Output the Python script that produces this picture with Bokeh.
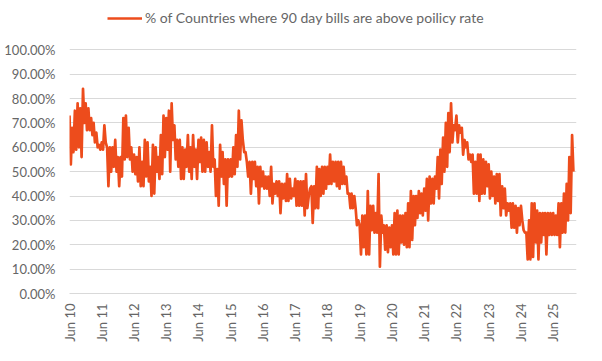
import calendar
from datetime import datetime
from bokeh.plotting import figure
from bokeh.models import (Range1d, FixedTicker, DatetimeTickFormatter, CustomJSTickFormatter,
                          Legend, LegendItem, ColumnDataSource)
from bokeh.embed import file_html
from bokeh.resources import INLINE

# monthly envelope of the series, Jun 2010 .. Feb 2026 (percent)
HIGH = [
    73, 68, 75, 78, 76, 84, 78,                                   # 2010 Jun-Dec
    76, 72, 70, 66, 61, 62, 69, 60, 60, 60, 63, 56,               # 2011
    56, 72, 73, 68, 60, 57, 56, 60, 54, 63, 62, 52,               # 2012
    61, 60, 56, 65, 73, 72, 75, 78, 69, 63, 63, 60,               # 2013
    59, 65, 60, 65, 59, 63, 64, 63, 62, 58, 69, 55,               # 2014
    51, 61, 58, 55, 55, 55, 60, 65, 75, 71, 58, 54,               # 2015
    54, 54, 54, 52, 52, 50, 48, 48, 52, 45, 46, 46,               # 2016
    45, 45, 49, 47, 43, 47, 46, 46, 46, 49, 40, 44,               # 2017
    44, 52, 51, 52, 52, 52, 57, 54, 54, 54, 54, 52,               # 2018
    48, 41, 41, 40, 28, 28, 32, 32, 42, 36, 36, 33,               # 2019
    49, 32, 28, 28, 27, 28, 33, 34, 32, 32, 33, 37,               # 2020
    42, 40, 40, 42, 41, 43, 47, 48, 47, 48, 56, 59,               # 2021
    64, 70, 74, 78, 69, 73, 69, 68, 63, 62, 57, 57,               # 2022
    54, 57, 57, 55, 54, 53, 50, 48, 49, 49, 44, 43,               # 2023
    37, 37, 37, 36, 35, 36, 26, 25, 30, 37, 37, 34,               # 2024
    33, 33, 33, 33, 33, 33, 32, 37, 37, 41, 45, 56,               # 2025
    65,                                                           # 2026
]
LOW = [
    53, 58, 59, 60, 56, 70, 67,
    67, 65, 62, 60, 59, 59, 62, 44, 50, 52, 50, 44,
    48, 55, 56, 55, 50, 49, 46, 44, 44, 48, 46, 40,
    41, 50, 47, 49, 56, 59, 50, 63, 55, 52, 47, 47,
    52, 50, 47, 52, 47, 54, 50, 50, 52, 50, 52, 40,
    36, 48, 45, 36, 48, 48, 49, 52, 55, 63, 58, 48,
    41, 47, 44, 37, 44, 43, 43, 40, 37, 41, 40, 33,
    39, 38, 38, 39, 40, 36, 36, 36, 32, 35, 43, 29,
    35, 35, 40, 41, 43, 45, 45, 46, 44, 43, 45, 45,
    41, 35, 35, 35, 30, 16, 19, 16, 16, 26, 25, 25,
    11, 25, 18, 17, 19, 16, 16, 16, 21, 20, 19, 19,
    22, 28, 31, 33, 32, 34, 30, 37, 37, 43, 39, 45,
    50, 52, 58, 62, 67, 62, 66, 57, 60, 55, 54, 41,
    41, 38, 41, 41, 44, 39, 40, 37, 38, 32, 35, 32,
    34, 27, 27, 25, 28, 30, 25, 14, 14, 15, 21, 14,
    21, 24, 16, 24, 24, 24, 24, 19, 25, 25, 30, 33,
    50,
]
YEARS = list(range(2010, 2026))
Y_TICKS = [0, 10, 20, 30, 40, 50, 60, 70, 80, 90, 100]
SERIES_NAME = "% of Countries where 90 day bills are above poilicy rate"

dates, vals = [], []
for i, (h, l) in enumerate(zip(HIGH, LOW)):
    yr = 2010 + (5 + i) // 12
    mo = (5 + i) % 12 + 1
    dates += [datetime(yr, mo, 1), datetime(yr, mo, 16)]
    vals += [h, l]

def ms(d):
    return calendar.timegm(d.timetuple()) * 1000.0

src = ColumnDataSource(dict(x=dates, y=vals))

FRAME_H = 293          # frame spans from figure top to the 0% line
PX_PER_PCT = 2.437     # 100% sits 243.7 px above 0%

p = figure(width=586, height=345, x_axis_type="datetime", output_backend="svg",
           toolbar_location=None,
           x_range=Range1d(ms(datetime(2010, 6, 1)), ms(datetime(2026, 2, 20))),
           y_range=Range1d(0, FRAME_H / PX_PER_PCT),
           min_border_left=69, min_border_right=10, min_border_top=0, min_border_bottom=52)
p.outline_line_color = None
p.background_fill_color = "white"
p.border_fill_color = "white"

r = p.line("x", "y", source=src, line_color="#ED4C1C", line_width=2.7, line_join="round")

font = "Lato"
grey = "#666666"

p.xgrid.grid_line_color = None
p.ygrid.grid_line_color = "#d9d9d9"
p.ygrid.ticker = FixedTicker(ticks=Y_TICKS)

p.yaxis.ticker = FixedTicker(ticks=Y_TICKS)
p.yaxis.formatter = CustomJSTickFormatter(code="return tick.toFixed(2) + '%';")
p.yaxis.axis_line_color = None
p.yaxis.major_label_standoff = 14

p.xaxis.ticker = FixedTicker(ticks=[ms(datetime(y, 6, 1)) for y in YEARS])
p.xaxis.formatter = DatetimeTickFormatter(years="%b %y", months="%b %y", days="%b %y")
p.xaxis.axis_line_color = "#d9d9d9"
p.xaxis.major_label_orientation = 3.14159265 / 2
p.xaxis.major_label_standoff = 10

for ax in (p.xaxis, p.yaxis):
    ax.major_tick_line_color = None
    ax.minor_tick_line_color = None
    ax.major_tick_out = 0
    ax.major_tick_in = 0
    ax.minor_tick_out = 0
    ax.major_label_text_font = font
    ax.major_label_text_font_size = "13px"
    ax.major_label_text_color = grey

legend = Legend(items=[LegendItem(label=SERIES_NAME, renderers=[r])],
                location=(38, 267), orientation="horizontal",
                border_line_color=None, background_fill_alpha=0,
                padding=0, margin=0, spacing=0,
                glyph_width=35, glyph_height=16, label_standoff=3,
                label_text_font=font, label_text_font_size="14px",
                label_text_color=grey)
p.add_layout(legend, "center")

open("out.html", "w").write(file_html(p, INLINE))
